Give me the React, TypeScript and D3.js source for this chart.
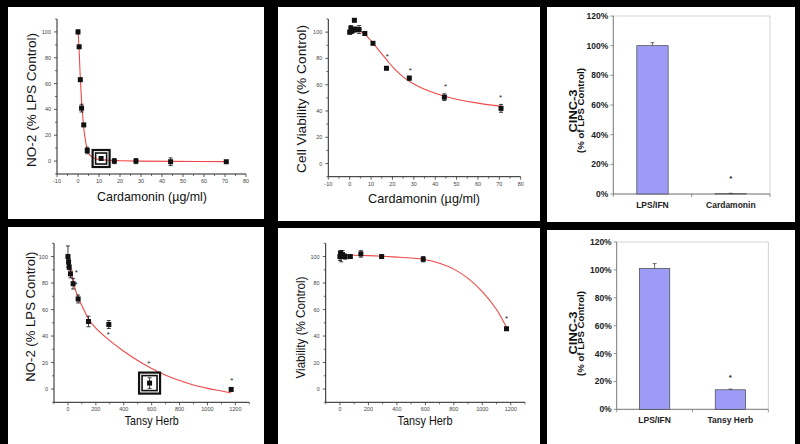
import React from 'react';
import * as d3 from 'd3';

const W = 800;
const H = 444;

// ---------- Panel A: NO-2 vs Cardamonin ----------
const cardNoX = [0, 0.55, 1.1, 1.7, 2.75, 4.4, 11, 17.3, 27.6, 44.1, 70.6];
const cardNoY = [100, 88.5, 63, 41, 28, 8.2, 2, 0, 0, -0.5, -0.5];
const cardNoErr = [1.5, 1, 1.2, 3, 1, 2.5, 1, 2, 2, 3, 0.5];
const cardNoFitX = [0, 0.5, 1, 1.5, 2, 3, 4, 5, 6, 8, 10, 15, 20, 30, 45, 71];
const cardNoFitY = [101, 87, 68, 52, 40, 22, 12, 6.5, 4, 2, 1.3, 0.6, 0.3, 0, -0.2, -0.4];

// ---------- Panel B: Cell viability vs Cardamonin ----------
const cardViX = [0, 0.55, 1.1, 2.2, 2.75, 4.4, 7.1, 10.9, 17.2, 27.9, 44.3, 70.8];
const cardViY = [100, 103, 101, 109, 102, 102, 99, 91.5, 72.5, 65, 50.5, 42];
const cardViErr = [1.5, 2, 2, 1, 2, 3, 1.5, 1, 1, 1.5, 2.5, 3];
const cardViStarX = [17.6, 28.4, 44.9, 70.6];
const cardViStarY = [83, 72.3, 60, 51.8];
const cardViFitX = [0, 2, 4, 6, 8, 10, 12, 15, 18, 21, 25, 30, 35, 40, 45, 50, 60, 71];
const cardViFitY = [101.5, 102, 101.5, 99.5, 97, 93.5, 89.5, 83.5, 77.5, 72, 66, 60.5, 56.5, 53.5, 51, 49, 46, 43.5];

// ---------- Panel D: NO-2 vs Tansy Herb ----------
const tansyNoX = [0, 4.5, 9, 18, 37, 73, 147, 293, 585, 1170];
const tansyNoY = [100, 96, 92, 87, 79.5, 68, 51, 48.7, 4.5, -0.3];
const tansyNoErr = [8, 2, 2, 3, 4, 3, 4, 3, 4, 1];
const tansyNoStarX = [60, 58, 290, 580, 1175];
const tansyNoStarY = [89.6, 80.5, 43, 21, 8.3];
const tansyNoFitX = [0, 20, 40, 75, 100, 150, 200, 300, 400, 500, 600, 700, 800, 900, 1000, 1100, 1170];
const tansyNoFitY = [101, 90, 80, 68.5, 63, 52.5, 46, 36.5, 28.5, 21.5, 15.5, 10.5, 6.5, 3, 0.5, -1.5, -3];

// ---------- Panel E: Viability vs Tansy Herb ----------
const tansyViX = [0, 4.5, 9, 18, 37, 73, 147, 293, 585, 1170];
const tansyViY = [100, 102.5, 100, 101.5, 100, 100, 102, 100, 98, 45.5];
const tansyViErr = [3, 2, 4, 3, 2, 1, 2.5, 1, 2, 1];
const tansyViStarX = [1170];
const tansyViStarY = [55];
const tansyViFitX = [0, 100, 200, 300, 400, 500, 585, 700, 800, 900, 1000, 1100, 1170];
const tansyViFitY = [101, 101, 100.7, 100.2, 99.6, 98.9, 98, 95, 90.5, 83.5, 73.5, 60, 46.5];

// ---------- Bar panels (CINC-3) ----------
const cardBarCats = ['LPS/IFN', 'Cardamonin'];
const cardBarVals = [100, 0.2];
const cardBarErr = [2, 0.3];
const cardBarStar = 12;
const tansyBarCats = ['LPS/IFN', 'Tansy Herb'];
const tansyBarVals = [101, 14];
const tansyBarErr = [3.5, 0.5];
const tansyBarStar = 24;

// ---------- Tick values ----------
const cardXTicks = [-10, 0, 10, 20, 30, 40, 50, 60, 70, 80];
const tansyXTicks = [0, 200, 400, 600, 800, 1000, 1200];
const pctYTicks = [0, 20, 40, 60, 80, 100];
const barYTicks = [0, 20, 40, 60, 80, 100, 120];

const FONT = 'Arial, "Liberation Sans", sans-serif';

type ScatterProps = {
  px: [number, number];
  py: [number, number];
  xDom: [number, number];
  yDom: [number, number];
  xTicks: number[];
  xStep: number;
  yTicks: number[];
  yStep: number;
  xs: number[];
  ys: number[];
  errs: number[];
  fitX: number[];
  fitY: number[];
  starX?: number[];
  starY?: number[];
  box?: { i: number; outer: number; inner: number };
  yTitle: string;
  yTitlePos: [number, number];
  yTitleLen: number;
  xTitle: string;
  xTitlePos: [number, number];
  xTitleLen: number;
};

function Scatter(p: ScatterProps) {
  const x = d3.scaleLinear().domain(p.xDom).range(p.px);
  const y = d3.scaleLinear().domain(p.yDom).range(p.py);
  const line = d3
    .line<number>()
    .x((_, i) => x(p.fitX[i]))
    .y((d) => y(d))
    .curve(d3.curveCatmullRom.alpha(0.5));
  const xMinor: number[] = [];
  for (let v = p.xDom[0]; v <= p.xDom[1] + 1e-9; v += p.xStep / 2) {
    if (!p.xTicks.some((t) => Math.abs(t - v) < 1e-9)) xMinor.push(v);
  }
  const yMinor: number[] = [];
  for (let v = p.yDom[0]; v <= p.yDom[1] + 1e-9; v += p.yStep / 2) {
    if (!p.yTicks.some((t) => Math.abs(t - v) < 1e-9)) yMinor.push(v);
  }
  const x0 = p.px[0];
  const y0 = p.py[0];
  const tickCol = '#333';
  return (
    <g>
      <line x1={x0} x2={p.px[1]} y1={y0} y2={y0} stroke="#222" strokeWidth={1} />
      <line x1={x0} x2={x0} y1={y0} y2={p.py[1]} stroke="#222" strokeWidth={1} />
      {p.xTicks.map((t) => (
        <g key={'xt' + t}>
          <line x1={x(t)} x2={x(t)} y1={y0} y2={y0 + 3} stroke={tickCol} strokeWidth={0.8} />
          <text x={x(t)} y={y0 + 9} fontSize={5.5} fill="#444" textAnchor="middle" fontFamily={FONT}>
            {t}
          </text>
        </g>
      ))}
      {xMinor.map((t) => (
        <line key={'xm' + t} x1={x(t)} x2={x(t)} y1={y0} y2={y0 + 2} stroke={tickCol} strokeWidth={0.7} />
      ))}
      {p.yTicks.map((t) => (
        <g key={'yt' + t}>
          <line x1={x0 - 3} x2={x0} y1={y(t)} y2={y(t)} stroke={tickCol} strokeWidth={0.8} />
          <text x={x0 - 6} y={y(t) + 2} fontSize={5.5} fill="#444" textAnchor="end" fontFamily={FONT}>
            {t}
          </text>
        </g>
      ))}
      {yMinor.map((t) => (
        <line key={'ym' + t} x1={x0 - 2} x2={x0} y1={y(t)} y2={y(t)} stroke={tickCol} strokeWidth={0.7} />
      ))}
      <path d={line(p.fitY) || ''} fill="none" stroke="#f04848" strokeWidth={1.1} />
      {p.xs.map((xv, i) => {
        const cx = x(xv);
        const top = y(p.ys[i] + p.errs[i]);
        const bot = y(p.ys[i] - p.errs[i]);
        return (
          <g key={'e' + i} stroke="#111" strokeWidth={0.8}>
            <line x1={cx} x2={cx} y1={top} y2={bot} />
            <line x1={cx - 2} x2={cx + 2} y1={top} y2={top} />
            <line x1={cx - 2} x2={cx + 2} y1={bot} y2={bot} />
          </g>
        );
      })}
      {p.xs.map((xv, i) => (
        <rect key={'m' + i} x={x(xv) - 2.5} y={y(p.ys[i]) - 2.5} width={5} height={5} fill="#111" />
      ))}
      {p.box && (
        <g fill="none" stroke="#111">
          <rect
            x={x(p.xs[p.box.i]) - p.box.outer / 2}
            y={y(p.ys[p.box.i]) - p.box.outer / 2}
            width={p.box.outer}
            height={p.box.outer}
            strokeWidth={2.2}
          />
          <rect
            x={x(p.xs[p.box.i]) - p.box.inner / 2}
            y={y(p.ys[p.box.i]) - p.box.inner / 2}
            width={p.box.inner}
            height={p.box.inner}
            strokeWidth={1.6}
          />
        </g>
      )}
      {(p.starX || []).map((sx, i) => (
        <text
          key={'s' + i}
          x={x(sx)}
          y={y((p.starY as number[])[i]) + 4.5}
          fontSize={8}
          fill="#222"
          textAnchor="middle"
          fontFamily={FONT}
        >
          *
        </text>
      ))}
      <text
        transform={`translate(${p.yTitlePos[0]},${p.yTitlePos[1]}) rotate(-90)`}
        fontSize={13.5}
        fontFamily={FONT}
        fill="#111"
        textAnchor="middle"
        dominantBaseline="central"
        textLength={p.yTitleLen}
        lengthAdjust="spacingAndGlyphs"
      >
        {p.yTitle}
      </text>
      <text
        x={p.xTitlePos[0]}
        y={p.xTitlePos[1]}
        fontSize={13}
        fontFamily={FONT}
        fill="#111"
        textAnchor="middle"
        textLength={p.xTitleLen}
        lengthAdjust="spacingAndGlyphs"
      >
        {p.xTitle}
      </text>
    </g>
  );
}

type BarProps = {
  px: [number, number];
  py: [number, number];
  cats: string[];
  vals: number[];
  errs: number[];
  star: number;
  titlePos: [number, number];
  subPos: [number, number];
};

function Bars(p: BarProps) {
  const x = d3.scaleBand<string>().domain(p.cats).range(p.px).paddingInner(0).paddingOuter(0);
  const y = d3.scaleLinear().domain([0, 120]).range(p.py);
  const bw = x.bandwidth() * 0.4;
  const [l, r] = p.px;
  const [b, t] = p.py;
  return (
    <g fontFamily={FONT}>
      <rect x={l} y={t} width={r - l} height={b - t} fill="none" stroke="#c8c8c8" strokeWidth={0.8} />
      <line x1={l} x2={r} y1={b} y2={b} stroke="#777" strokeWidth={0.9} />
      <line x1={l} x2={l} y1={b} y2={t} stroke="#777" strokeWidth={0.9} />
      {barYTicks.map((v) => (
        <g key={'bt' + v}>
          <line x1={l - 3} x2={l} y1={y(v)} y2={y(v)} stroke="#777" strokeWidth={0.8} />
          <text x={l - 5} y={y(v) + 3} fontSize={8.5} fontWeight="bold" textAnchor="end" fill="#222">
            {v + '%'}
          </text>
        </g>
      ))}
      {[l, (l + r) / 2, r].map((v, i) => (
        <line key={'cx' + i} x1={v} x2={v} y1={b} y2={b + 3} stroke="#777" strokeWidth={0.8} />
      ))}
      {p.cats.map((c, i) => {
        const cx = (x(c) as number) + x.bandwidth() / 2;
        const top = y(p.vals[i]);
        const et = y(p.vals[i] + p.errs[i]);
        return (
          <g key={c}>
            <rect x={cx - bw / 2} y={top} width={bw} height={b - top} fill="#9c9cf6" stroke="#444" strokeWidth={0.7} />
            <line x1={cx} x2={cx} y1={top} y2={et} stroke="#333" strokeWidth={0.7} />
            <line x1={cx - 2} x2={cx + 2} y1={et} y2={et} stroke="#333" strokeWidth={0.7} />
            <text x={cx} y={b + 14} fontSize={8.5} fontWeight="bold" textAnchor="middle" fill="#222">
              {c}
            </text>
          </g>
        );
      })}
      <text
        x={(x(p.cats[1]) as number) + x.bandwidth() / 2}
        y={y(p.star) + 4.5}
        fontSize={8}
        fontWeight="bold"
        textAnchor="middle"
        fill="#222"
      >
        *
      </text>
      <text
        transform={`translate(${p.titlePos[0]},${p.titlePos[1]}) rotate(-90)`}
        fontSize={11}
        fontWeight="bold"
        textAnchor="middle"
        dominantBaseline="central"
        fill="#111"
        textLength={43}
        lengthAdjust="spacingAndGlyphs"
      >
        CINC-3
      </text>
      <text
        transform={`translate(${p.subPos[0]},${p.subPos[1]}) rotate(-90)`}
        fontSize={8.5}
        fontWeight="bold"
        textAnchor="middle"
        dominantBaseline="central"
        fill="#111"
        textLength={85}
        lengthAdjust="spacingAndGlyphs"
      >
        (% of LPS Control)
      </text>
    </g>
  );
}

export default function App() {
  return (
    <svg
      width={W}
      height={H}
      viewBox={`0 0 ${W} ${H}`}
      style={{ position: 'absolute', left: 0, top: 0, display: 'block' }}
    >
      <rect x={0} y={0} width={W} height={H} fill="#000" />
      <rect x={8} y={7} width={256} height={212} fill="#fff" />
      <rect x={278} y={7} width={262} height={214} fill="#fff" />
      <rect x={547} y={7} width={248} height={215} fill="#fff" />
      <rect x={8} y={227} width={256} height={217} fill="#fff" />
      <rect x={278} y={228} width={262} height={216} fill="#fff" />
      <rect x={547} y={230} width={248} height={214} fill="#fff" />

      <Scatter
        px={[57, 246]}
        py={[174, 19]}
        xDom={[-10, 80]}
        yDom={[-10, 110]}
        xTicks={cardXTicks}
        xStep={10}
        yTicks={pctYTicks}
        yStep={20}
        xs={cardNoX}
        ys={cardNoY}
        errs={cardNoErr}
        fitX={cardNoFitX}
        fitY={cardNoFitY}
        box={{ i: 6, outer: 17, inner: 11 }}
        yTitle="NO-2 (% LPS Control)"
        yTitlePos={[31.5, 100]}
        yTitleLen={134}
        xTitle="Cardamonin (µg/ml)"
        xTitlePos={[152, 201]}
        xTitleLen={110}
      />
      <Scatter
        px={[328.3, 520.7]}
        py={[176.7, 19]}
        xDom={[-10, 80]}
        yDom={[-10, 110]}
        xTicks={cardXTicks}
        xStep={10}
        yTicks={pctYTicks}
        yStep={20}
        xs={cardViX}
        ys={cardViY}
        errs={cardViErr}
        fitX={cardViFitX}
        fitY={cardViFitY}
        starX={cardViStarX}
        starY={cardViStarY}
        yTitle="Cell Viability (% Control)"
        yTitlePos={[301.5, 99]}
        yTitleLen={148}
        xTitle="Cardamonin (µg/ml)"
        xTitlePos={[424, 203]}
        xTitleLen={112}
      />
      <Bars
        px={[613.3, 770]}
        py={[194, 16]}
        cats={cardBarCats}
        vals={cardBarVals}
        errs={cardBarErr}
        star={cardBarStar}
        titlePos={[573, 111]}
        subPos={[581, 110.5]}
      />
      <Scatter
        px={[54, 249.3]}
        py={[402.3, 243.3]}
        xDom={[-100, 1300]}
        yDom={[-10, 110]}
        xTicks={tansyXTicks}
        xStep={200}
        yTicks={pctYTicks}
        yStep={20}
        xs={tansyNoX}
        ys={tansyNoY}
        errs={tansyNoErr}
        fitX={tansyNoFitX}
        fitY={tansyNoFitY}
        starX={tansyNoStarX}
        starY={tansyNoStarY}
        box={{ i: 8, outer: 21, inner: 15 }}
        yTitle="NO-2 (% LPS Control)"
        yTitlePos={[30, 316.7]}
        yTitleLen={130}
        xTitle="Tansy Herb"
        xTitlePos={[151.7, 425]}
        xTitleLen={54}
      />
      <Scatter
        px={[325.7, 525]}
        py={[402.3, 243.3]}
        xDom={[-100, 1300]}
        yDom={[-10, 110]}
        xTicks={tansyXTicks}
        xStep={200}
        yTicks={pctYTicks}
        yStep={20}
        xs={tansyViX}
        ys={tansyViY}
        errs={tansyViErr}
        fitX={tansyViFitX}
        fitY={tansyViFitY}
        starX={tansyViStarX}
        starY={tansyViStarY}
        yTitle="Viability  (%  Control)"
        yTitlePos={[300.7, 327.5]}
        yTitleLen={102}
        xTitle="Tansy Herb"
        xTitlePos={[425, 425]}
        xTitleLen={55}
      />
      <Bars
        px={[616.7, 768.3]}
        py={[409.3, 242]}
        cats={tansyBarCats}
        vals={tansyBarVals}
        errs={tansyBarErr}
        star={tansyBarStar}
        titlePos={[573, 333]}
        subPos={[580.7, 333.5]}
      />
    </svg>
  );
}
